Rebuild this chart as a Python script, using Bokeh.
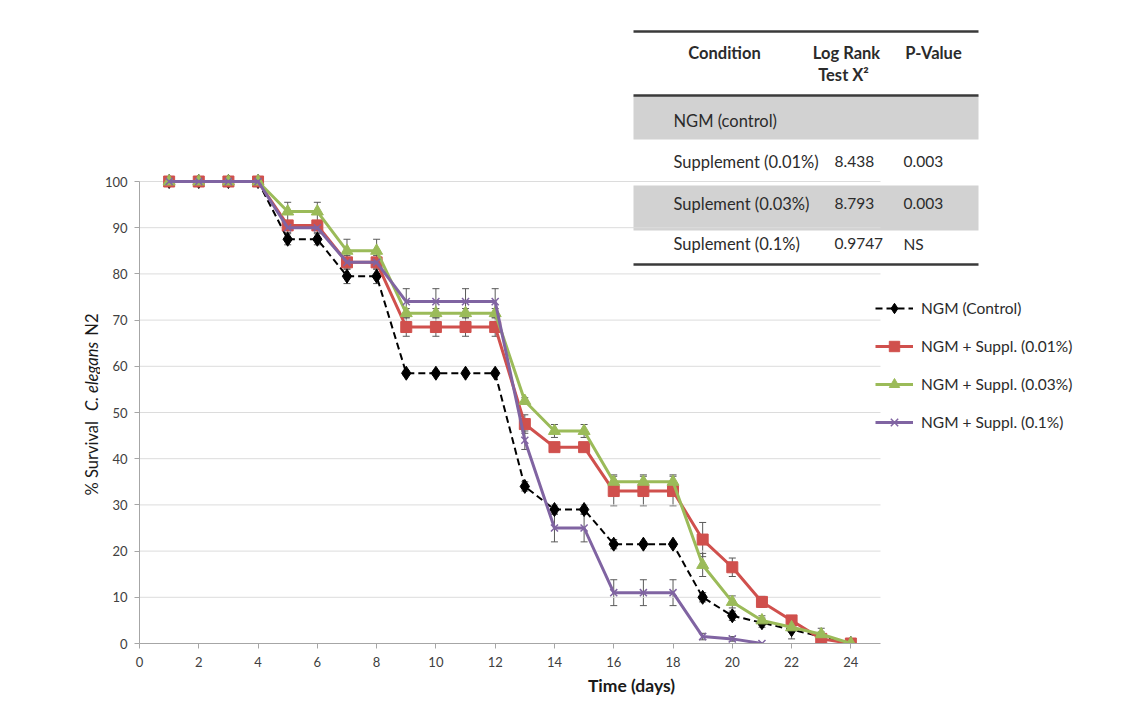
import numpy as np
from bokeh.plotting import figure
from bokeh.layouts import row
from bokeh.models import (Range1d, Whisker, TeeHead, ColumnDataSource, Legend,
                          LegendItem, FixedTicker)
from bokeh.embed import file_html
from bokeh.resources import INLINE
from bokeh.core.properties import value

# ---------------- data ----------------
days = list(range(1, 25))
days_p = list(range(1, 22))

control = [100, 100, 100, 100, 87.5, 87.5, 79.5, 79.5, 58.5, 58.5, 58.5, 58.5,
           34, 29, 29, 21.5, 21.5, 21.5, 10, 6, 4.5, 3, 1.5, 0]
control_err = [0, 0, 0, 0, 1.2, 1.2, 1.6, 1.6, 0.5, 0.5, 0.5, 0.5,
               1, 1, 1, 1, 0.5, 0.5, 1, 1, 1, 2, 1, 0]

supp001 = [100, 100, 100, 100, 90.5, 90.5, 82.5, 82.5, 68.5, 68.5, 68.5, 68.5,
           47.5, 42.5, 42.5, 33, 33, 33, 22.5, 16.5, 9, 5, 1, 0]
supp001_err = [0, 0, 0, 0, 1, 1, 1.5, 1.5, 2, 2, 2, 2,
               2, 0.5, 0.5, 3.2, 3.2, 3.2, 3.7, 2, 1.2, 0.5, 0.5, 0]

supp003 = [100, 100, 100, 100, 93.5, 93.5, 85, 85, 71.5, 71.5, 71.5, 71.5,
           52.5, 46, 46, 35, 35, 35, 17, 9, 5, 3.5, 2, 0]
supp003_err = [0, 0, 0, 0, 2, 2, 2.5, 2.5, 1, 1, 1, 1,
               0.7, 1.4, 1.4, 1.5, 1.5, 1.5, 2.5, 1.3, 1, 1, 1.3, 0]

supp01 = [100, 100, 100, 100, 90, 90, 82.5, 82.5, 74, 74, 74, 74,
          44, 25, 25, 11, 11, 11, 1.5, 1, 0]
supp01_err = [0, 0, 0, 0, 1, 1, 1, 1, 2.8, 2.8, 2.8, 2.8,
              2, 3, 3, 2.8, 2.8, 2.8, 0.7, 0.5, 0]

series_names = ["NGM (Control)", "NGM + Suppl. (0.01%)",
                "NGM + Suppl. (0.03%)", "NGM + Suppl. (0.1%)"]

x_ticks = list(range(0, 25, 2))
y_ticks = list(range(0, 101, 10))

y_title_parts = ["% Survival", "C. elegans", "N2"]
y_title_styles = ["normal", "italic", "normal"]

table_header = ["Condition", "Log Rank", "Test X\u00b2", "P-Value"]
table_conditions = ["NGM (control)", "Supplement (0.01%)",
                    "Suplement (0.03%)", "Suplement (0.1%)"]
table_chi2 = ["", "8.438", "8.793", "0.9747"]
table_pval = ["", "0.003", "0.003", "NS"]

# ---------------- geometry (page pixels) ----------------
LEFT_W = 100
TOTAL_W, H = 1123, 703
PX_LEFT, PX_BOTTOM = 139, 643
PX_X25, PX_Y100 = 880, 181
frame_w = TOTAL_W - PX_LEFT
frame_h = PX_BOTTOM
x_end = 25 * frame_w / (PX_X25 - PX_LEFT)
y_end = 100 * frame_h / (PX_BOTTOM - PX_Y100)

FONT = "Lato"
TXT = "#2b2b2b"

# ---------------- left strip (y-axis title, mixed upright / italic) ----------------
lf = figure(width=LEFT_W, height=H, x_range=Range1d(0, LEFT_W),
            y_range=Range1d(PX_BOTTOM, 0),
            output_backend="svg", toolbar_location=None,
            x_axis_location=None, y_axis_location=None,
            min_border_left=0, min_border_right=0, min_border_top=0,
            min_border_bottom=H - PX_BOTTOM)
lf.outline_line_color = None
lf.xgrid.visible = False
lf.ygrid.visible = False
for txt, ypos, style, align in zip(y_title_parts, [495, 376, 313], y_title_styles,
                                   ["left", "center", "right"]):
    lf.text(x=[91], y=[ypos], text=[txt], angle=np.pi / 2, text_align=align,
            text_baseline="middle", text_font=value(FONT), text_font_size="16.5px",
            text_font_style=style, text_color="#1a1a1a")

# ---------------- main figure ----------------
p = figure(width=TOTAL_W - LEFT_W, height=H, x_range=Range1d(0, x_end),
           y_range=Range1d(0, y_end), output_backend="svg", toolbar_location=None,
           min_border_left=PX_LEFT - LEFT_W, min_border_bottom=H - PX_BOTTOM,
           min_border_right=0, min_border_top=0)
p.outline_line_color = None
p.extra_x_ranges = {"px": Range1d(PX_LEFT, TOTAL_W)}
p.extra_y_ranges = {"py": Range1d(PX_BOTTOM, 0)}

for ax in (p.xaxis[0], p.yaxis[0]):
    ax.axis_line_color = "#a6a6a6"
    ax.major_tick_line_color = "#a6a6a6"
    ax.minor_tick_line_color = None
    ax.major_tick_in = 0
    ax.major_tick_out = 5
    ax.major_label_text_font = FONT
    ax.major_label_text_font_size = "13px"
    ax.major_label_text_color = "#404040"
p.xaxis[0].bounds = (0, 25)
p.xaxis[0].ticker = FixedTicker(ticks=x_ticks)
p.xaxis[0].major_label_standoff = 8
p.xaxis[0].axis_label = "Time (days)"
p.xaxis[0].axis_label_text_font = FONT
p.xaxis[0].axis_label_text_font_style = "bold"
p.xaxis[0].axis_label_text_font_size = "17.5px"
p.xaxis[0].axis_label_text_color = "#1a1a1a"
p.xaxis[0].axis_label_standoff = 5
p.yaxis[0].bounds = (0, 100)
p.yaxis[0].ticker = FixedTicker(ticks=y_ticks)
p.yaxis[0].major_label_standoff = 7
p.xgrid.visible = False
p.ygrid.visible = False

# table background rows
p.quad(left=[633, 633], right=[978, 978], top=[95, 185], bottom=[139, 230],
       x_range_name="px", y_range_name="py", fill_color="#d2d2d2", line_color=None)

# horizontal gridlines
gy = [t for t in y_ticks if t > 0]
p.segment(x0=[0] * len(gy), x1=[25] * len(gy), y0=gy, y1=gy,
          line_color="#dcdcdc", line_width=1)

# table rules
p.segment(x0=[633] * 3, x1=[978] * 3, y0=[31, 95, 264], y1=[31, 95, 264],
          x_range_name="px", y_range_name="py", line_color="#3a3a3a", line_width=2.5)

# table text
p.text(x=[724, 846, 843, 933], y=[52, 52, 74, 52], text=table_header,
       x_range_name="px", y_range_name="py", text_font=value(FONT),
       text_font_style="bold", text_font_size="16.5px", text_color=TXT,
       text_align="center", text_baseline="middle")
row_y = [120, 161, 203, 243]
p.text(x=[673] * 4, y=row_y, text=table_conditions, x_range_name="px", y_range_name="py",
       text_font=value(FONT), text_font_size="16.5px", text_color=TXT,
       text_align="left", text_baseline="middle")
p.text(x=[834] * 4, y=row_y, text=table_chi2, x_range_name="px", y_range_name="py",
       text_font=value(FONT), text_font_size="15.5px", text_color=TXT,
       text_align="left", text_baseline="middle")
p.text(x=[903] * 4, y=row_y, text=table_pval, x_range_name="px", y_range_name="py",
       text_font=value(FONT), text_font_size="15.5px", text_color=TXT,
       text_align="left", text_baseline="middle")

# series
styles = [
    dict(x=days, y=control, err=control_err, color="#000000", dash="7 4", lw=2,
         marker="diamond", size=14),
    dict(x=days, y=supp001, err=supp001_err, color="#d0504d", dash="solid", lw=3,
         marker="square", size=11),
    dict(x=days, y=supp003, err=supp003_err, color="#9bbb59", dash="solid", lw=3,
         marker="triangle", size=12),
    dict(x=days_p, y=supp01, err=supp01_err, color="#8064a2", dash="solid", lw=3,
         marker="x", size=10),
]

items = []
for name, s in zip(series_names, styles):
    xs = np.array(s["x"], dtype=float)
    ys = np.array(s["y"], dtype=float)
    es = np.array(s["err"], dtype=float)
    m = es > 0
    wsrc = ColumnDataSource(dict(x=xs[m], upper=ys[m] + es[m], lower=ys[m] - es[m]))
    p.add_layout(Whisker(source=wsrc, base="x", upper="upper", lower="lower",
                         line_color="#595959", line_width=1,
                         upper_head=TeeHead(size=7, line_color="#595959", line_width=1),
                         lower_head=TeeHead(size=7, line_color="#595959", line_width=1)))
    src = ColumnDataSource(dict(x=xs, y=ys))
    lr = p.line("x", "y", source=src, line_color=s["color"], line_width=s["lw"],
                line_dash=s["dash"])
    if s["marker"] == "x":
        mr = p.scatter("x", "y", source=src, marker="x", size=s["size"],
                       line_color=s["color"], line_width=1.5)
    else:
        mr = p.scatter("x", "y", source=src, marker=s["marker"], size=s["size"],
                       fill_color=s["color"], line_color=s["color"])
    items.append(LegendItem(label=name, renderers=[lr, mr]))

legend = Legend(items=items, location=(736, 208))
legend.label_text_font = FONT
legend.label_text_font_size = "15.5px"
legend.label_text_color = TXT
legend.glyph_width = 38
legend.glyph_height = 26
legend.label_height = 26
legend.spacing = 12
legend.padding = 0
legend.margin = 0
legend.label_standoff = 8
legend.border_line_color = None
legend.background_fill_alpha = 0
p.add_layout(legend)

layout = row(lf, p, spacing=0)
open("out.html", "w").write(file_html(layout, INLINE))
